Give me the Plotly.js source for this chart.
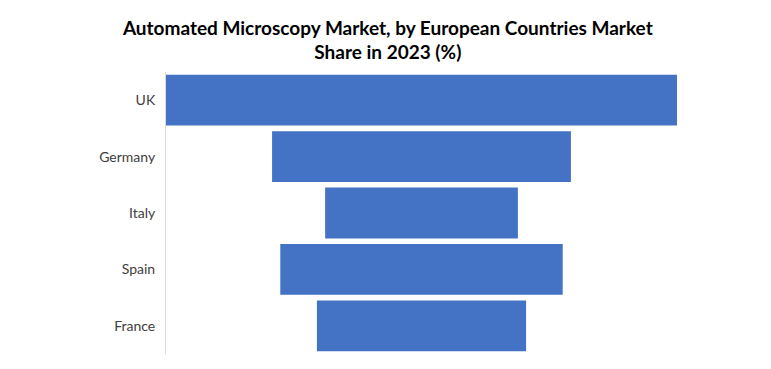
<!DOCTYPE html>
<html><head><meta charset="utf-8">
<script src="https://cdn.plot.ly/plotly-3.0.1.min.js"></script>
<style>html,body{margin:0;padding:0;background:#fff;}</style>
</head><body>
<div id="chart" style="width:771px;height:369px;"></div>
<script>
const countries = ["UK", "Germany", "Italy", "Spain", "France"];
const shares = [34.2, 20.0, 12.9, 18.9, 14.0];
const maxShare = Math.max(...shares);

const trace = {
  type: 'funnel',
  y: countries,
  x: shares,
  textinfo: 'none',
  marker: {color: '#4472C4', line: {width: 0}},
  connector: {visible: false},
  hoverinfo: 'y+x'
};

const layout = {
  width: 771, height: 369,
  paper_bgcolor: '#fff', plot_bgcolor: '#fff',
  margin: {l: 166, r: 94, t: 72, b: 15},
  funnelgap: 0.1,
  showlegend: false,
  title: {
    text: 'Automated Microscopy Market, by European Countries Market<br>Share in 2023 (%)',
    font: {family: 'Lato, "Open Sans", sans-serif', size: 19, color: '#000', weight: 'bold'},
    x: 0.503, xref: 'container', xanchor: 'center',
    y: 0.906, yref: 'container', yanchor: 'middle'
  },
  xaxis: {
    range: [-maxShare / 2, maxShare / 2],
    showgrid: false, zeroline: false, showticklabels: false, showline: false, fixedrange: true
  },
  yaxis: {
    showline: true, linecolor: '#d9d9d9', linewidth: 1,
    showgrid: false, zeroline: false, ticks: '',
    ticklabelstandoff: 7,
    tickfont: {family: 'Lato, "Open Sans", sans-serif', size: 14, color: '#404040'},
    fixedrange: true
  }
};

Plotly.newPlot('chart', [trace], layout, {displayModeBar: false, staticPlot: true});
</script>
</body></html>
